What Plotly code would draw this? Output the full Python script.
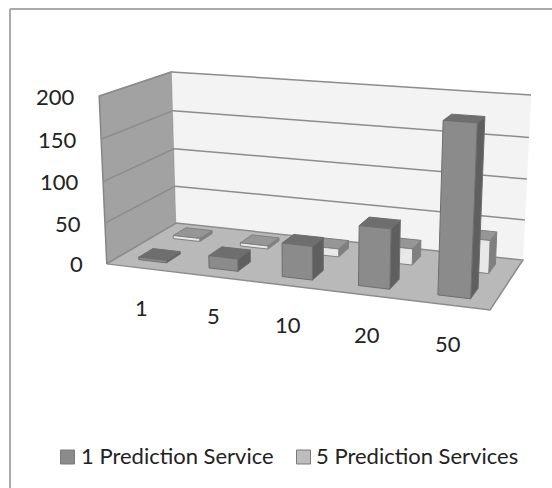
import numpy as np
import plotly.graph_objects as go

categories = ["1", "5", "10", "20", "50"]
single_service = [3, 15, 40, 70, 195]
five_services = [4, 4, 10, 20, 40]
value_ticks = [0, 50, 100, 150, 200]
series_names = ["1 Prediction Service", "5 Prediction Services"]

# Known screen positions of the plot box corners: (category, depth, value) -> (px, py)
box_corners = [
    ((0, 0, 0), (107, 264)), ((0, 1, 0), (176, 223)),
    ((5, 1, 0), (523, 260)), ((5, 0, 0), (490, 310)),
    ((0, 1, 200), (172, 72)), ((5, 1, 200), (531, 95)),
    ((0, 0, 200), (99, 96)),
]


def fit_camera(corners):
    rows, rhs = [], []
    for (x, y, z), (u, v) in corners:
        z = z / 200
        x = x / 5
        rows.append([x, y, z, 1, 0, 0, 0, 0, -u * x, -u * y, -u * z])
        rows.append([0, 0, 0, 0, x, y, z, 1, -v * x, -v * y, -v * z])
        rhs += [u, v]
    sol = np.linalg.lstsq(np.array(rows, float), np.array(rhs, float), rcond=None)[0]
    return np.append(sol, 1).reshape(3, 4)


CAMERA = fit_camera(box_corners)


def project(cat, depth, value):
    h = CAMERA @ np.array([cat / 5, depth, value / 200, 1.0])
    return h[0] / h[2], h[1] / h[2]


def polygon(points, fill, line, width=1.0):
    xy = [project(*p) for p in points]
    xy.append(xy[0])
    return go.Scatter(
        x=[p[0] for p in xy], y=[p[1] for p in xy], mode="lines", fill="toself",
        fillcolor=fill, line=dict(color=line, width=width), hoverinfo="skip", showlegend=False,
    )


def bar_faces(cat, d0, d1, value, colors, edge):
    x0, x1 = cat + 0.3, cat + 0.7
    front, side, top = colors
    return [
        polygon([(x1, d0, 0), (x1, d1, 0), (x1, d1, value), (x1, d0, value)], side, edge),
        polygon([(x0, d0, value), (x1, d0, value), (x1, d1, value), (x0, d1, value)], top, edge),
        polygon([(x0, d0, 0), (x1, d0, 0), (x1, d0, value), (x0, d0, value)], front, edge),
    ]


fig = go.Figure()
fig.add_trace(polygon([(0, 0, 0), (0, 1, 0), (0, 1, 200), (0, 0, 200)], "#a2a2a2", "#868686", 1.5))
fig.add_trace(polygon([(0, 1, 0), (5, 1, 0), (5, 1, 200), (0, 1, 200)], "#f3f3f3", "#f3f3f3", 0.5))
fig.add_trace(polygon([(0, 0, 0), (5, 0, 0), (5, 1, 0), (0, 1, 0)], "#b9b9b9", "#8c8c8c", 1.5))

for tick in value_ticks[1:]:
    for a, b in [((0, 0, tick), (0, 1, tick)), ((0, 1, tick), (5, 1, tick))]:
        pa, pb = project(*a), project(*b)
        fig.add_trace(go.Scatter(x=[pa[0], pb[0]], y=[pa[1], pb[1]], mode="lines",
                                 line=dict(color="#8c8c8c", width=1.5),
                                 hoverinfo="skip", showlegend=False))

for i, v in enumerate(five_services):
    for face in bar_faces(i, 0.65, 0.85, v, ("#e8e8e8", "#808080", "#969696"), "#808080"):
        fig.add_trace(face)
for i, v in enumerate(single_service):
    for face in bar_faces(i, 0.15, 0.35, v, ("#8b8b8b", "#5f5f5f", "#6e6e6e"), "#6e6e6e"):
        fig.add_trace(face)

annotations = []
label_font = dict(family="Lato", size=22, color="#222222")
for tick in value_ticks:
    px, py = project(0, 0, tick)
    annotations.append(dict(x=px - 22, y=py, text=str(tick), showarrow=False, xanchor="right",
                            yanchor="middle", font=label_font))
for i, label in enumerate(categories):
    px, py = project(i + 0.5, 0, 0)
    annotations.append(dict(x=px, y=py + 39, text=label, showarrow=False,
                            xanchor="center", yanchor="middle", font=label_font))

# Legend row: a square swatch followed by the series name
swatch_y = 457
text_y = 455
for name, swatch, swatch_x, text_x in zip(series_names, ["#8b8b8b", "#bdbdbd"], [67.5, 303.5], [81, 316]):
    fig.add_trace(go.Scatter(x=[swatch_x], y=[swatch_y], mode="markers", name=name,
                             marker=dict(symbol="square", size=14, color=swatch,
                                         line=dict(color="#7a7a7a", width=1)),
                             hoverinfo="skip", showlegend=False))
    annotations.append(dict(x=text_x, y=text_y, text=name, showarrow=False, xanchor="left",
                            yanchor="middle", xshift=-2, font=label_font))

# Chart frame runs along the top and left edges only
frame_line = dict(color="#aaaaaa", width=2)
fig.update_layout(
    width=552, height=488, margin=dict(l=0, r=0, t=0, b=0),
    paper_bgcolor="white", plot_bgcolor="white",
    xaxis=dict(range=[0, 552], visible=False, fixedrange=True),
    yaxis=dict(range=[488, 0], visible=False, fixedrange=True),
    annotations=annotations,
    shapes=[dict(type="line", x0=10, y0=9, x1=552, y1=9, line=frame_line),
            dict(type="line", x0=10, y0=9, x1=10, y1=488, line=frame_line)],
    showlegend=False,
)
fig.write_html("out.html")
